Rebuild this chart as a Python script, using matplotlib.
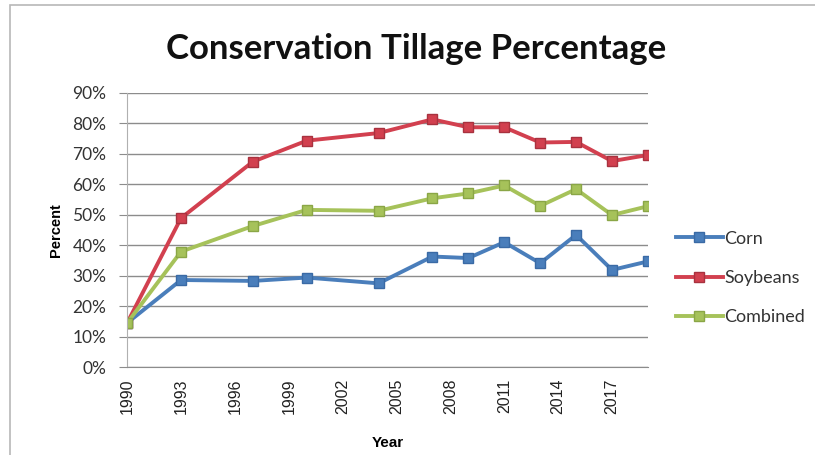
import matplotlib.pyplot as plt
from matplotlib.ticker import PercentFormatter

# data (percent)
years = [1990, 1993, 1997, 2000, 2004, 2007, 2009, 2011, 2013, 2015, 2017, 2019]
corn = [14.5, 28.6, 28.3, 29.4, 27.5, 36.3, 35.8, 41.0, 34.1, 43.4, 31.9, 34.7]
soybeans = [14.5, 48.9, 67.4, 74.3, 76.8, 81.3, 78.7, 78.7, 73.7, 73.9, 67.6, 69.6]
combined = [14.5, 37.9, 46.3, 51.6, 51.3, 55.4, 57.0, 59.6, 52.9, 58.4, 49.9, 52.8]
tick_years = [1990, 1993, 1996, 1999, 2002, 2005, 2008, 2011, 2014, 2017]

fig = plt.figure(figsize=(8.15, 4.55), dpi=100)
ax = fig.add_axes([0.156, 0.193, 0.639, 0.603])

# outer chart frame like the Excel chart area
fig.patches.append(plt.Rectangle((0.012, -0.02), 0.99, 1.008, transform=fig.transFigure,
                                  fill=False, edgecolor='#b8b8b8', linewidth=1.2))

series = [
    ('Corn', corn, '#4a7ebb', '#3a6aa5'),
    ('Soybeans', soybeans, '#d2404f', '#a8323f'),
    ('Combined', combined, '#a6c25a', '#8aa646'),
]
for name, vals, col, edge in series:
    ax.plot(years, vals, color=col, linewidth=2.8, marker='s', markersize=7,
            markerfacecolor=col, markeredgecolor=edge, markeredgewidth=1.0, label=name)

ax.set_xlim(1990, 2019)
ax.set_ylim(0, 90)
ax.set_yticks(range(0, 91, 10))
ax.yaxis.set_major_formatter(PercentFormatter(decimals=0))
ax.set_xticks(tick_years)
ax.set_xticklabels([str(y) for y in tick_years], rotation=90,
                   fontsize=11.5, family='Liberation Sans', color='#222222')
for lab in ax.get_yticklabels():
    lab.set_fontfamily('Lato')
    lab.set_fontsize(12.5)
    lab.set_color('#333333')

ax.grid(axis='y', color='#8c8c8c', linewidth=1.0)
ax.set_axisbelow(True)
for s in ['top', 'right']:
    ax.spines[s].set_visible(False)
ax.spines['left'].set_color('#b0b0b0')
ax.spines['bottom'].set_color('#8c8c8c')
ax.tick_params(axis='y', length=6, color='#8c8c8c', pad=9)
ax.tick_params(axis='x', length=0, pad=8)

ax.set_xlabel('Year', fontsize=11, fontweight='bold', family='Liberation Sans', labelpad=16)
ax.set_ylabel('Percent', fontsize=10.5, fontweight='bold', family='Liberation Sans', labelpad=7)
fig.text(0.51, 0.893, 'Conservation Tillage Percentage', ha='center', va='center',
         fontsize=25, fontweight='bold', family='Lato', color='#111111')

leg = ax.legend(loc='center left', bbox_to_anchor=(1.022, 0.325), frameon=False,
                labelspacing=1.3, handlelength=2.6, handletextpad=0.1,
                prop={'family': 'Lato', 'size': 13})
for t in leg.get_texts():
    t.set_color('#333333')

plt.savefig('out.png', dpi=100)
